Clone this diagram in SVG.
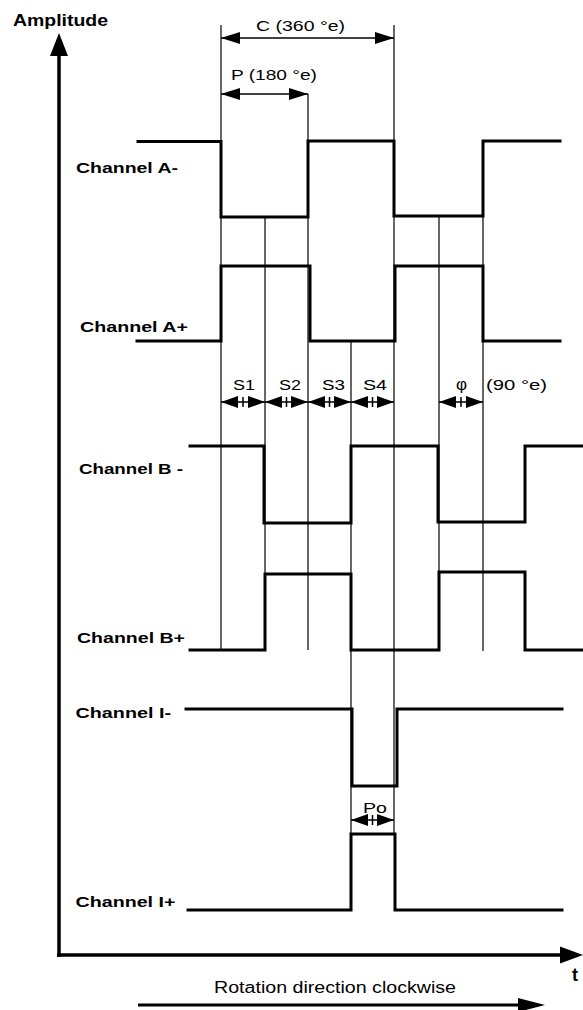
<svg xmlns="http://www.w3.org/2000/svg" width="583" height="1010" viewBox="0 0 583 1010">
<style>
.bg{fill:#fff}
.sig{fill:none;stroke:#000;stroke-width:3;stroke-linejoin:miter;stroke-linecap:square}
.ref{fill:none;stroke:#000;stroke-width:1.2}
.axis{fill:none;stroke:#000;stroke-width:3.5}
.dim{fill:none;stroke:#000;stroke-width:1.5}
.lbl{font-family:"Liberation Sans",Arial,sans-serif;font-weight:bold;font-size:15.5px;fill:#000}
.txt{font-family:"Liberation Sans",Arial,sans-serif;font-size:15px;fill:#000}
.stxt{font-family:"Liberation Sans",Arial,sans-serif;font-size:14px;fill:#000}
.head{fill:#000}
</style>
<defs>
<marker id="ah" markerUnits="userSpaceOnUse" markerWidth="20" markerHeight="12" refX="19" refY="6" orient="auto-start-reverse"><path d="M0,0 L19,6 L0,12 z" fill="#000"/></marker>
<marker id="as" markerUnits="userSpaceOnUse" markerWidth="18" markerHeight="12" refX="17" refY="6" orient="auto-start-reverse"><path d="M0,0 L17,6 L0,12 z" fill="#000"/></marker>
</defs>
<rect class="bg" x="0" y="0" width="583" height="1010"/>

<g id="connectors">
<line class="ref" x1="221" y1="25" x2="221" y2="650"/>
<line class="ref" x1="308" y1="94" x2="308" y2="650"/>
<line class="ref" x1="394" y1="25" x2="394" y2="834"/>
<line class="ref" x1="265" y1="217" x2="265" y2="574"/>
<line class="ref" x1="351" y1="341" x2="351" y2="834"/>
<line class="ref" x1="439" y1="216" x2="439" y2="573"/>
<line class="ref" x1="483" y1="141" x2="483" y2="651"/>
</g>

<g id="axes">
<line class="axis" x1="59" y1="957" x2="59" y2="54"/>
<path class="head" d="M59,33 L68,56 L50,56 z"/>
<line class="axis" x1="57" y1="955" x2="562" y2="955"/>
<path class="head" d="M583,955 L560,946.5 L560,963.5 z"/>
<text class="lbl" x="13" y="26" style="font-size:16.5px" textLength="95" lengthAdjust="spacingAndGlyphs">Amplitude</text>
<text class="lbl" x="572" y="981" style="font-size:18px">t</text>
</g>

<g id="dim-C">
<line class="dim" x1="221" y1="38" x2="394" y2="38" marker-start="url(#ah)" marker-end="url(#ah)"/>
<text class="txt" x="256" y="31" textLength="89" lengthAdjust="spacingAndGlyphs">C (360  °e)</text>
</g>
<g id="dim-P">
<line class="dim" x1="221" y1="94" x2="308" y2="94" marker-start="url(#ah)" marker-end="url(#ah)"/>
<text class="txt" x="231" y="80" textLength="86" lengthAdjust="spacingAndGlyphs">P (180  °e)</text>
</g>

<g id="channel-A-minus">
<text class="lbl" x="76" y="173" textLength="102" lengthAdjust="spacingAndGlyphs">Channel  A-</text>
<path class="sig" d="M138,141.5 H221 V217 H308 V141 H394 V216 H483 V141 H560"/>
</g>
<g id="channel-A-plus">
<text class="lbl" x="80" y="332" textLength="108" lengthAdjust="spacingAndGlyphs">Channel  A+</text>
<path class="sig" d="M137,341 H221 V266 H310 V341 H395 V266 H483 V341 H560"/>
</g>

<g id="dim-S">
<line class="dim" x1="221" y1="402" x2="265" y2="402" marker-start="url(#as)" marker-end="url(#as)"/>
<line class="dim" x1="243" y1="397" x2="243" y2="407"/>
<line class="dim" x1="265" y1="402" x2="308" y2="402" marker-start="url(#as)" marker-end="url(#as)"/>
<line class="dim" x1="286.5" y1="397" x2="286.5" y2="407"/>
<line class="dim" x1="308" y1="402" x2="351" y2="402" marker-start="url(#as)" marker-end="url(#as)"/>
<line class="dim" x1="329.5" y1="397" x2="329.5" y2="407"/>
<line class="dim" x1="351" y1="402" x2="394" y2="402" marker-start="url(#as)" marker-end="url(#as)"/>
<line class="dim" x1="372.5" y1="397" x2="372.5" y2="407"/>
<line class="dim" x1="439" y1="402" x2="483" y2="402" marker-start="url(#as)" marker-end="url(#as)"/>
<line class="dim" x1="461" y1="397" x2="461" y2="407"/>
<text class="stxt" x="233" y="390" textLength="22" lengthAdjust="spacingAndGlyphs">S1</text>
<text class="stxt" x="279" y="390" textLength="22" lengthAdjust="spacingAndGlyphs">S2</text>
<text class="stxt" x="322" y="390" textLength="23" lengthAdjust="spacingAndGlyphs">S3</text>
<text class="stxt" x="363" y="390" textLength="24" lengthAdjust="spacingAndGlyphs">S4</text>
<text class="stxt" x="456" y="390" style="font-size:17px">φ</text>
<text class="stxt" x="486" y="390" textLength="61" lengthAdjust="spacingAndGlyphs">(90  °e)</text>
</g>

<g id="channel-B-minus">
<text class="lbl" x="79" y="474" textLength="104" lengthAdjust="spacingAndGlyphs">Channel B -</text>
<path class="sig" d="M190,446 H264 V523 H351 V446 H438 V522 H525 V446 H583"/>
</g>
<g id="channel-B-plus">
<text class="lbl" x="77" y="643" textLength="108" lengthAdjust="spacingAndGlyphs">Channel B+</text>
<path class="sig" d="M190,650 H265 V574 H351 V650 H439 V572 H525 V650 H583"/>
</g>

<g id="channel-I-minus">
<text class="lbl" x="75.5" y="718" textLength="95.5" lengthAdjust="spacingAndGlyphs">Channel I-</text>
<path class="sig" d="M186,709 H352 V786 H397 V709 H562"/>
</g>

<g id="dim-Po">
<line class="dim" x1="351" y1="820" x2="394" y2="820" marker-start="url(#as)" marker-end="url(#as)"/>
<line class="dim" x1="372.5" y1="815" x2="372.5" y2="825"/>
<text class="stxt" x="363" y="813" style="font-size:15px" textLength="24" lengthAdjust="spacingAndGlyphs">Po</text>
</g>

<g id="channel-I-plus">
<text class="lbl" x="75.5" y="907" textLength="100" lengthAdjust="spacingAndGlyphs">Channel I+</text>
<path class="sig" d="M188,910 H351 V834 H395 V910 H562"/>
</g>

<g id="rotation">
<text class="txt" x="214" y="993" style="font-size:16px" textLength="242" lengthAdjust="spacingAndGlyphs">Rotation direction clockwise</text>
<line class="axis" x1="138" y1="1005" x2="520" y2="1005" style="stroke-width:3"/>
<path class="head" d="M545,1005 L518,998 L518,1012 z"/>
</g>
</svg>
